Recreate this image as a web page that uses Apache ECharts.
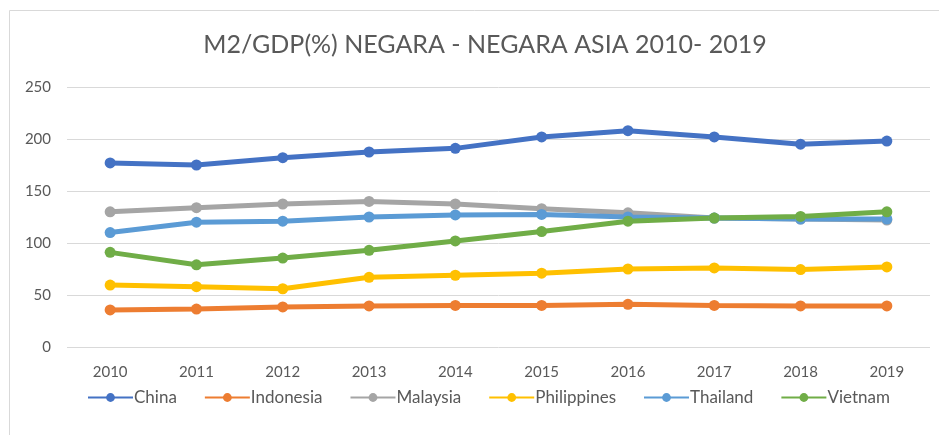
<!DOCTYPE html>
<html>
<head>
<meta charset="utf-8">
<script src="https://cdn.jsdelivr.net/npm/echarts@6/dist/echarts.min.js"></script>
<style>
  html, body { margin: 0; padding: 0; background: #fff; }
  #chart { width: 939px; height: 435px; }
</style>
</head>
<body>
<div id="chart"></div>
<script>
var years = ['2010', '2011', '2012', '2013', '2014', '2015', '2016', '2017', '2018', '2019']
var china = [177, 175, 182, 187.5, 191, 202, 208, 202, 195, 198]
var indonesia = [35.6, 36.5, 38.5, 39.5, 40, 40, 41, 40, 39.5, 39.5]
var malaysia = [130, 134, 137.5, 140, 137.5, 133, 129, 124, 123, 122]
var philippines = [59.6, 58, 56, 67, 69, 71, 75, 76, 74.5, 77]
var thailand = [110, 120, 121, 125, 127, 127.5, 125, 124, 123, 123]
var vietnam = [91, 79, 85.5, 93, 102, 111, 121, 124, 125.5, 130]
var yTicks = [0, 50, 100, 150, 200, 250]

var font = 'Lato'
var textColor = '#595959'

function line(name, data, color) {
    return {
        name: name,
        type: 'line',
        data: data,
        symbol: 'circle',
        symbolSize: 11,
        lineStyle: { width: 5, color: color },
        itemStyle: { color: color },
        emphasis: { disabled: true }
    }
}

var myChart = echarts.init(document.getElementById('chart'))
var option = {
    animation: false,
    color: ['#4472C4', '#ED7D31', '#A5A5A5', '#FFC000', '#5B9BD5', '#70AD47'],
    graphic: [{
        type: 'rect',
        shape: { x: 9.5, y: 10.5, width: 940, height: 440 },
        style: { fill: 'none', stroke: '#d9d9d9', lineWidth: 1 }
    }],
    title: {
        text: 'M2/GDP(%) NEGARA - NEGARA ASIA 2010- 2019',
        left: 480,
        textAlign: 'center',
        top: 27,
        textStyle: { fontFamily: font, fontSize: 25, fontWeight: 'normal', color: textColor }
    },
    legend: {
        top: 384,
        left: 82,
        itemWidth: 45,
        itemHeight: 11,
        itemGap: 27,
        data: ['China', 'Indonesia', 'Malaysia', 'Philippines', 'Thailand', 'Vietnam'],
        textStyle: { fontFamily: font, fontSize: 17, color: textColor, padding: [0, 0, 0, -4] }
    },
    grid: { left: 67, right: 9, top: 87, bottom: 88 },
    xAxis: {
        type: 'category',
        data: years,
        axisTick: { show: false },
        axisLine: { show: false },
        axisLabel: { fontFamily: font, fontSize: 15, color: textColor, margin: 18 }
    },
    yAxis: {
        type: 'value',
        min: yTicks[0],
        max: yTicks[yTicks.length - 1],
        interval: 50,
        axisLabel: { fontFamily: font, fontSize: 15, color: textColor, margin: 16 },
        splitLine: { lineStyle: { color: '#d9d9d9', width: 1 } }
    },
    series: [
        line('China', china, '#4472C4'),
        line('Indonesia', indonesia, '#ED7D31'),
        line('Malaysia', malaysia, '#A5A5A5'),
        line('Philippines', philippines, '#FFC000'),
        line('Thailand', thailand, '#5B9BD5'),
        line('Vietnam', vietnam, '#70AD47')
    ]
}
myChart.setOption(option)
</script>
</body>
</html>
